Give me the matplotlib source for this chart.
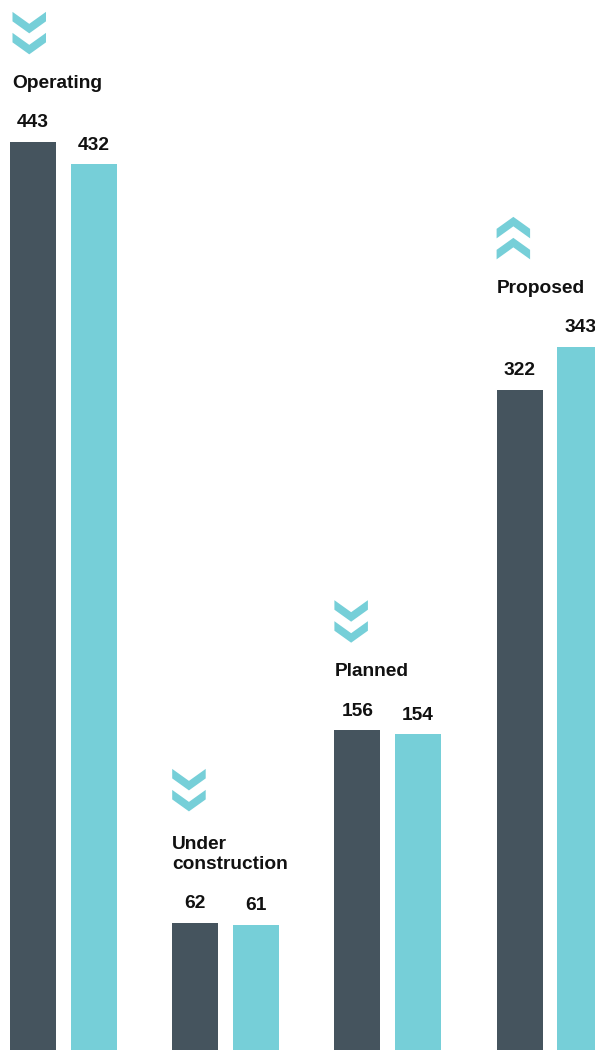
import matplotlib
matplotlib.use("Agg")
import matplotlib.pyplot as plt
from matplotlib.patches import Polygon

# ---- data ----
categories = ["Operating", "Under\nconstruction", "Planned", "Proposed"]
series_a = [443, 62, 156, 322]   # dark bars
series_b = [432, 61, 154, 343]   # light bars
directions = ["down", "down", "down", "up"]

DARK = "#45545e"
LIGHT = "#76cfd8"
TEXT = "#111111"

W, H = 595, 1050
fig = plt.figure(figsize=(W / 100, H / 100), dpi=100)
ax = fig.add_axes([0, 0, 1, 1])
ax.set_axis_off()

STEP = 162.2          # px per group
PX_PER_UNIT = 2.05    # px per value unit
x0_px = 33.0          # centre of first dark bar in px
ax.set_xlim(-x0_px / STEP, (W - x0_px) / STEP)
ax.set_ylim(0, H / PX_PER_UNIT)

def dx(px):
    return px / STEP

def dy(px):
    return px / PX_PER_UNIT

bar_w = dx(46)
off_b = dx(60.5)
xs = list(range(len(categories)))
ax.bar(xs, series_a, width=bar_w, color=DARK, align="center")
ax.bar([x + off_b for x in xs], series_b, width=bar_w, color=LIGHT, align="center")

FS = 13.8
FAM = ["Liberation Sans", "DejaVu Sans"]

for i, (cat, a, b, d) in enumerate(zip(categories, series_a, series_b, directions)):
    # value labels
    for xc, v in ((i, a), (i + off_b, b)):
        ax.text(xc, v + dy(14.5), str(v), ha="center", va="baseline",
                fontsize=FS, fontweight="bold", color=TEXT, family=FAM)
    top = max(a, b)
    left_px = (i * STEP + x0_px - 23)
    lx = dx(max(left_px, 12) - x0_px)
    nlines = cat.count("\n") + 1
    last_base = top + dy(54)
    ax.text(lx, last_base, cat, ha="left", va="baseline", fontsize=FS,
            fontweight="bold", color=TEXT, family=FAM, linespacing=1.25)
    first_base = last_base + dy(24) * (nlines - 1)
    # chevrons: block top 76 px above first baseline, each 21 px tall
    cx_left = dx(max(left_px, 12.5) - x0_px)
    cw = dx(33.5)
    block_top = first_base + dy(76)
    for k in range(2):
        t = block_top - dy(21 * k)
        if d == "down":
            pts = [(0, 0), (0.5, -12), (1, 0), (1, -9.5), (0.5, -21.5), (0, -9.5)]
        else:
            pts = [(0, -12), (0.5, 0), (1, -12), (1, -21.5), (0.5, -9.5), (0, -21.5)]
        verts = [(cx_left + px * cw, t + dy(py)) for px, py in pts]
        ax.add_patch(Polygon(verts, closed=True, facecolor=LIGHT, edgecolor="none"))

fig.savefig("out.png", dpi=100)
